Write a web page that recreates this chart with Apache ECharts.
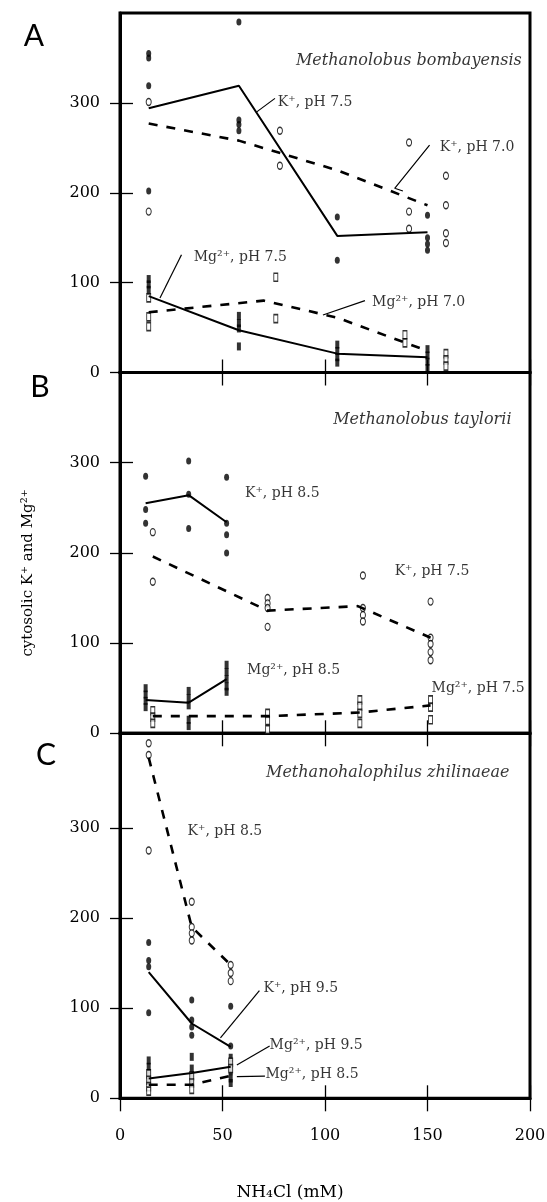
<!DOCTYPE html>
<html lang="en">
  <head>
    <meta charset="UTF-8" />
    <title>Cytosolic K+ and Mg2+ versus NH4Cl</title>
    <script src="https://cdn.jsdelivr.net/npm/echarts@6.0.0/dist/echarts.min.js"></script>
    <style>
      html, body { margin: 0; background: #fff; }
      #main { width: 547px; height: 1202px; }
    </style>
  </head>
  <body>
    <div id="main"></div>

    <script>
      // axes
      const xTicks = [0, 50, 100, 150, 200];
      const yTicks = [0, 100, 200, 300];
      const panelLetters = ['A', 'B', 'C'];
      const panelTitles = ['Methanolobus bombayensis', 'Methanolobus taylorii', 'Methanohalophilus zhilinaeae'];
      const panelYMax = [400, 400, 405];

      // A: Methanolobus bombayensis  [NH4Cl mM, cytosolic ion]
      const aKpH75Dots = [[14, 355], [14, 350], [14, 319], [14, 202], [58, 390], [58, 281], [58, 276], [58, 269],
        [106, 173], [106, 125], [150, 175], [150, 150], [150, 143], [150, 136]];
      const aKpH75Mean = [[14, 294], [58, 319], [106, 152], [150, 156]];
      const aKpH70Dots = [[14, 301], [14, 179], [78, 269], [78, 230], [141, 256], [141, 179], [141, 160],
        [159, 219], [159, 186], [159, 155], [159, 144]];
      const aKpH70Mean = [[14, 277], [58, 258], [106, 225], [150, 186]];
      const aMgpH75Dots = [[14, 104], [14, 98], [14, 92], [58, 63], [58, 55], [58, 49], [58, 29],
        [106, 31], [106, 24], [106, 17], [106, 11], [150, 26], [150, 19], [150, 12], [150, 5]];
      const aMgpH75Mean = [[14, 85], [58, 47], [106, 21], [150, 17]];
      const aMgpH70Dots = [[14, 83], [14, 62], [14, 51], [76, 106], [76, 60], [139, 42], [139, 33],
        [159, 21], [159, 14], [159, 7]];
      const aMgpH70Mean = [[14, 67], [70, 80], [106, 61], [150, 24]];

      // B: Methanolobus taylorii
      const bKpH85Dots = [[12.5, 285], [12.5, 248], [12.5, 233], [33.5, 302], [33.5, 265], [33.5, 227],
        [52, 284], [52, 233], [52, 220], [52, 200]];
      const bKpH85Mean = [[12.5, 255], [33.5, 264], [52, 234]];
      const bKpH75Dots = [[16, 223], [16, 168], [72, 150], [72, 144], [72, 139], [72, 118],
        [118.5, 175], [118.5, 139], [118.5, 131], [118.5, 124],
        [151.5, 146], [151.5, 106], [151.5, 99], [151.5, 90], [151.5, 81]];
      const bKpH75Mean = [[16, 196], [72, 136], [116, 141], [151.5, 106]];
      const bMgpH85Dots = [[12.5, 50], [12.5, 43], [12.5, 36], [12.5, 29], [33.5, 47], [33.5, 39], [33.5, 31],
        [33.5, 15], [33.5, 8], [52, 76], [52, 68], [52, 60], [52, 52], [52, 46]];
      const bMgpH85Mean = [[12.5, 37], [33.5, 34], [52, 60]];
      const bMgpH75Dots = [[16, 25], [16, 18], [16, 11], [72, 22], [72, 14], [72, 4],
        [117, 37], [117, 30], [117, 22], [117, 11], [151.5, 37], [151.5, 29], [151.5, 15]];
      const bMgpH75Mean = [[16, 19], [72, 19], [117, 23], [151.5, 31]];

      // C: Methanohalophilus zhilinaeae
      const cKpH95Dots = [[14, 173], [14, 153], [14, 146], [14, 95], [35, 109], [35, 87], [35, 79], [35, 70],
        [54, 102], [54, 58]];
      const cKpH95Mean = [[14, 140], [35, 83], [54, 57]];
      const cKpH85Dots = [[14, 394], [14, 381], [14, 275], [35, 218], [35, 190], [35, 183], [35, 175],
        [54, 148], [54, 139], [54, 130]];
      const cKpH85Mean = [[14, 378], [35, 190], [54, 148]];
      const cMgpH95Dots = [[14, 42], [14, 35], [14, 28], [14, 20], [35, 46], [35, 33], [35, 25], [35, 18],
        [54, 45], [54, 38], [54, 30], [54, 22], [54, 17]];
      const cMgpH95Mean = [[14, 22], [35, 28], [54, 35]];
      const cMgpH85Dots = [[14, 27], [14, 20], [14, 13], [14, 8], [35, 25], [35, 17], [35, 10], [54, 40], [54, 33]];
      const cMgpH85Mean = [[14, 15], [35, 15], [54, 25]];

      // curve labels and their leader lines, in data units
      const aNotes = [['K⁺, pH 7.5', 77, 300], ['K⁺, pH 7.0', 156, 250], ['Mg²⁺, pH 7.5', 36, 128], ['Mg²⁺, pH 7.0', 123, 78]];
      const aLeaders = [[[66.7, 290], [75.6, 305]], [[138, 202], [134, 205], [151, 253]],
        [[19.5, 83], [30, 131]], [[99, 64], [119.5, 80]]];
      const bNotes = [['K⁺, pH 8.5', 61, 266], ['K⁺, pH 7.5', 134, 179], ['Mg²⁺, pH 8.5', 62, 70], ['Mg²⁺, pH 7.5', 152, 50]];
      const bLeaders = [];
      const cNotes = [['K⁺, pH 8.5', 33, 296], ['K⁺, pH 9.5', 70, 122], ['Mg²⁺, pH 9.5', 73, 59], ['Mg²⁺, pH 8.5', 71, 26]];
      const cLeaders = [[[49, 67], [68, 119.6]], [[57, 37], [73, 58]], [[57, 24], [70.7, 24.7]]];
      const titleAnchors = [[196, 347], [191, 347], [190, 361]];

      const serif = 'DejaVu Serif';
      const black = '#000';

      function dots(i, data, shape, filled) {
        return {
          type: 'scatter', xAxisIndex: 2 * i, yAxisIndex: 2 * i, data: data, silent: true, z: 3,
          symbol: shape, symbolSize: shape === 'rect' ? [4, 8] : [5, 7],
          itemStyle: filled ? { color: black } : { color: '#fff', borderColor: black, borderWidth: 1.2 },
        };
      }

      function trend(i, data, dashed) {
        return {
          type: 'line', xAxisIndex: 2 * i, yAxisIndex: 2 * i, data: data, silent: true, z: 4,
          symbol: 'none',
          lineStyle: { color: black, width: dashed ? 2.6 : 2, type: dashed ? [9, 9] : 'solid' },
        };
      }

      function leaders(i, list) {
        return list.map((d) => ({
          type: 'line', xAxisIndex: 2 * i, yAxisIndex: 2 * i, data: d, silent: true, z: 4,
          symbol: 'none', lineStyle: { color: black, width: 1.2 },
        }));
      }

      function notes(i, list) {
        return {
          type: 'scatter', xAxisIndex: 2 * i, yAxisIndex: 2 * i, silent: true, z: 5,
          symbolSize: 0.1, itemStyle: { color: 'transparent' },
          data: list.map((n) => ({ name: n[0], value: [n[1], n[2]] })),
          label: {
            show: true, position: [0, 0], align: 'left', verticalAlign: 'middle',
            formatter: '{b}', fontFamily: serif, fontSize: 14, color: black,
          },
        };
      }

      function title(i) {
        return {
          type: 'scatter', xAxisIndex: 2 * i, yAxisIndex: 2 * i, silent: true, z: 5,
          symbolSize: 0.1, itemStyle: { color: 'transparent' },
          data: [{ name: panelTitles[i], value: titleAnchors[i] }],
          label: {
            show: true, position: [0, 0], align: 'right', verticalAlign: 'middle',
            formatter: '{b}', fontFamily: serif, fontStyle: 'italic', fontSize: 16, color: black,
          },
        };
      }

      const grids = [
        { left: 120, top: 13, width: 410, height: 359.5 },
        { left: 120, top: 372.5, width: 410, height: 360.8 },
        { left: 120, top: 733.3, width: 410, height: 365 },
      ].map((g) => Object.assign(g, {
        show: true, borderColor: black, borderWidth: 3, containLabel: false, outerBoundsMode: 'none',
      }));

      const tickLine = { color: black, width: 1.3 };
      const xAxis = [];
      const yAxis = [];
      grids.forEach((g, i) => {
        const base = { gridIndex: i, type: 'value', splitLine: { show: false } };
        xAxis.push(Object.assign({}, base, {
          position: 'bottom', min: 0, max: 200, interval: 50,
          axisLine: { show: true, onZero: false, lineStyle: { color: black, width: 3 } },
          axisTick: { show: true, inside: true, length: 13, customValues: xTicks, lineStyle: tickLine },
          axisLabel: { show: false },
        }));
        xAxis.push(Object.assign({}, base, {
          position: 'bottom', min: 0, max: 200, interval: 50,
          axisLine: { show: false, onZero: false },
          axisTick: { show: true, inside: false, length: 13, customValues: xTicks, lineStyle: tickLine },
          axisLabel: {
            show: i === 2, customValues: xTicks, margin: 30,
            fontFamily: serif, fontSize: 16, color: black,
          },
        }));
        yAxis.push(Object.assign({}, base, {
          position: 'left', min: 0, max: panelYMax[i], interval: 100,
          axisLine: { show: true, onZero: false, lineStyle: { color: black, width: 3 } },
          axisTick: { show: true, inside: true, length: 13, customValues: yTicks, lineStyle: tickLine },
          axisLabel: { show: false },
        }));
        yAxis.push(Object.assign({}, base, {
          position: 'left', min: 0, max: panelYMax[i], interval: 100,
          axisLine: { show: false, onZero: false },
          axisTick: { show: true, inside: false, length: 10, customValues: yTicks, lineStyle: tickLine },
          axisLabel: {
            show: true, customValues: yTicks, margin: 20,
            fontFamily: serif, fontSize: 16, color: black,
          },
        }));
      });

      const series = [
        dots(0, aKpH75Dots, 'circle', true), trend(0, aKpH75Mean, false),
        dots(0, aKpH70Dots, 'circle', false), trend(0, aKpH70Mean, true),
        dots(0, aMgpH75Dots, 'rect', true), trend(0, aMgpH75Mean, false),
        dots(0, aMgpH70Dots, 'rect', false), trend(0, aMgpH70Mean, true),
        ...leaders(0, aLeaders), notes(0, aNotes), title(0),

        dots(1, bKpH85Dots, 'circle', true), trend(1, bKpH85Mean, false),
        dots(1, bKpH75Dots, 'circle', false), trend(1, bKpH75Mean, true),
        dots(1, bMgpH85Dots, 'rect', true), trend(1, bMgpH85Mean, false),
        dots(1, bMgpH75Dots, 'rect', false), trend(1, bMgpH75Mean, true),
        ...leaders(1, bLeaders), notes(1, bNotes), title(1),

        dots(2, cKpH95Dots, 'circle', true), trend(2, cKpH95Mean, false),
        dots(2, cKpH85Dots, 'circle', false), trend(2, cKpH85Mean, true),
        dots(2, cMgpH95Dots, 'rect', true), trend(2, cMgpH95Mean, false),
        dots(2, cMgpH85Dots, 'rect', false), trend(2, cMgpH85Mean, true),
        ...leaders(2, cLeaders), notes(2, cNotes), title(2),
      ];

      const letterPos = [[34, 36], [40, 387], [46, 755]];
      const graphic = panelLetters.map((t, i) => ({
        type: 'text', x: letterPos[i][0], y: letterPos[i][1],
        style: { text: t, font: '30px Lato', fill: black, align: 'center', verticalAlign: 'middle' },
      }));
      graphic.push({
        type: 'text', x: 28, y: 573, rotation: Math.PI / 2,
        style: { text: 'cytosolic K⁺ and Mg²⁺', font: '15px "DejaVu Serif"', fill: black, align: 'center', verticalAlign: 'middle' },
      });
      graphic.push({
        type: 'text', x: 290, y: 1193,
        style: { text: 'NH₄Cl (mM)', font: '17px "DejaVu Serif"', fill: black, align: 'center', verticalAlign: 'middle' },
      });

      const options = {
        animation: false,
        backgroundColor: '#fff',
        grid: grids,
        xAxis: xAxis,
        yAxis: yAxis,
        series: series,
        graphic: graphic,
      };

      var myChart = echarts.init(document.getElementById('main'), null, { renderer: 'canvas' });
      myChart.setOption(options);

      window.onresize = function () {
        myChart.resize();
      };
    </script>
  </body>
</html>
